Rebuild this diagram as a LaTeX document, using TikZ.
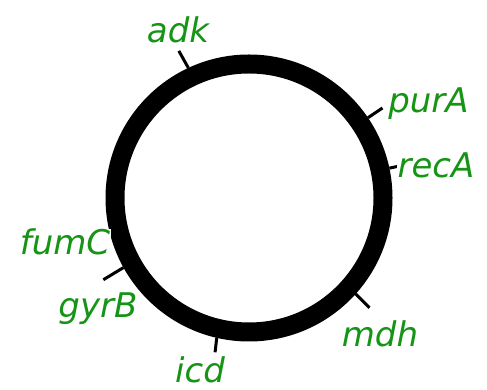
\documentclass[tikz,border=0pt]{standalone}
\usepackage{fontspec}
\setmainfont{DejaVu Sans}
\usepackage{tikz}
\usetikzlibrary{positioning}

\definecolor{genegreen}{RGB}{22,148,22}

\tikzset{
  chromosome/.style={draw,circle,line width=19pt,minimum size=268pt,inner sep=0pt},
  genetick/.style={line width=3pt},
  genelabel/.style={anchor=base,text=genegreen,fill=white,inner sep=0.5pt,
    font=\fontsize{34}{38}\selectfont\itshape}
}

\begin{document}
\begin{tikzpicture}[x=1pt,y=1pt]
\useasboundingbox (0,0) rectangle (487,390);

\node[chromosome] (chrom) at (249,192) {};

% outer ends of the gene ticks
\coordinate (adk-tip) at ([shift={(115.5:163)}]chrom.center);
\coordinate (purA-tip) at ([shift={(34:161)}]chrom.center);
\coordinate (recA-tip) at ([shift={(12:163)}]chrom.center);
\coordinate (gyrB-tip) at ([shift={(209.3:167)}]chrom.center);
\coordinate (mdh-tip) at ([shift={(-42.3:163)}]chrom.center);
\coordinate (icd-tip) at ([shift={(257.6:158)}]chrom.center);

\draw[genetick] (chrom.115.5) -- (adk-tip);
\draw[genetick] (chrom.34) -- (purA-tip);
\draw[genetick] (chrom.12) -- (recA-tip);
\draw[genetick] (chrom.209.3) -- (gyrB-tip);
\draw[genetick] (chrom.-42.3) -- (mdh-tip);
\draw[genetick] (chrom.257.6) -- (icd-tip);

% gene names, masking the tick ends
\node[genelabel] (adk) at (178,347) {adk};
\node[genelabel] (purA) at (428.5,277) {purA};
\node[genelabel] (recA) at (436,212) {recA};
\node[genelabel] (fumC) at (65,135) {fumC};
\node[genelabel] (gyrB) at (98,72) {gyrB};
\node[genelabel] (mdh) at (380,43) {mdh};
\node[genelabel] (icd) at (200,7) {icd};
\end{tikzpicture}
\end{document}
